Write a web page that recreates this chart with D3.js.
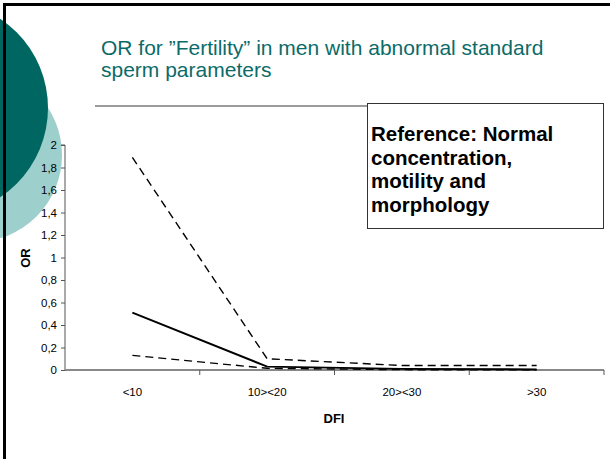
<!DOCTYPE html>
<html lang="en">
<head>
    <meta charset="UTF-8">
    <script src="https://d3js.org/d3.v7.min.js"></script>
    <style>
        body { margin: 0; background: #fff; }
        .tick text { font: 11.5px "Liberation Sans", Arial, sans-serif; fill: #000; }
        .slide-title { font: 21px "Liberation Sans", Arial, sans-serif; fill: #0b6b69; }
        .note-text { font: bold 20.5px "Liberation Sans", Arial, sans-serif; fill: #000; }
        .axis-title { font: bold 13px "Liberation Sans", Arial, sans-serif; fill: #000; }
    </style>
    <title>OR for Fertility</title>
</head>
<body>
<div id="chart"></div>
<script>
// Data
const categories = ["<10", "10><20", "20><30", ">30"];
const orValues = [0.51, 0.03, 0.01, 0.005];
const upperCI = [1.89, 0.10, 0.04, 0.04];
const lowerCI = [0.13, 0.015, 0.003, 0.001];
const yTicks = [0, 0.2, 0.4, 0.6, 0.8, 1, 1.2, 1.4, 1.6, 1.8, 2];
const titleLines = ["OR for \u201dFertility\u201d in men with abnormal standard", "sperm parameters"];
const noteLines = ["Reference: Normal", "concentration,", "motility and", "morphology"];

// Dimensions
const dimensions = { width: 610, height: 459 };
const plot = { left: 65, right: 604, top: 145, bottom: 370 };

const svg = d3.select("#chart")
    .append("svg")
    .attr("width", dimensions.width)
    .attr("height", dimensions.height);

// Slide decoration
svg.append("circle")
    .attr("cx", -25).attr("cy", 155).attr("r", 87)
    .attr("fill", "#9dcfcd");
svg.append("circle")
    .attr("cx", -59).attr("cy", 108).attr("r", 107)
    .attr("fill", "#006661");

svg.append("path")
    .attr("d", "M4.5,459 V4.5 H610")
    .attr("fill", "none")
    .attr("stroke", "#000")
    .attr("stroke-width", 3);

// Title
svg.append("text")
    .attr("class", "slide-title")
    .selectAll("tspan")
    .data(titleLines)
    .join("tspan")
    .attr("x", 101)
    .attr("y", (d, i) => 55 + i * 22)
    .text(d => d);

svg.append("line")
    .attr("x1", 95).attr("x2", 585)
    .attr("y1", 106).attr("y2", 106)
    .attr("stroke", "#7a7a7a")
    .attr("stroke-width", 1.5);

// Scales
const xScale = d3.scaleBand()
    .domain(categories)
    .range([plot.left, plot.right]);

const yScale = d3.scaleLinear()
    .domain([0, 2])
    .range([plot.bottom, plot.top]);

const xPos = (d, i) => xScale(categories[i]) + xScale.bandwidth() / 2;

// Axes
const yAxis = d3.axisLeft(yScale)
    .tickValues(yTicks)
    .tickSize(4)
    .tickPadding(4)
    .tickFormat(d => String(d).replace(".", ","));

const yG = svg.append("g")
    .attr("transform", `translate(${plot.left},0)`)
    .call(yAxis);
yG.select(".domain").attr("stroke", "#555").attr("d", `M-4,${plot.top}H0V${plot.bottom}`);
yG.selectAll(".tick line").attr("stroke", "#555");

const xAxis = d3.axisBottom(xScale).tickSize(0).tickPadding(18);
const xG = svg.append("g")
    .attr("transform", `translate(0,${plot.bottom})`)
    .call(xAxis);
xG.select(".domain").attr("stroke", "#888").attr("stroke-width", 2).attr("d", `M${plot.left},0H${plot.right}`);

// Tick marks between categories
xG.selectAll(".sep")
    .data(categories)
    .join("line")
    .attr("class", "sep")
    .attr("x1", d => xScale(d) + xScale.bandwidth())
    .attr("x2", d => xScale(d) + xScale.bandwidth())
    .attr("y1", 0).attr("y2", 5)
    .attr("stroke", "#555");

// Lines
const lineGenerator = d3.line()
    .x(xPos)
    .y(d => yScale(d));

svg.append("path")
    .datum(upperCI)
    .attr("d", lineGenerator)
    .attr("fill", "none")
    .attr("stroke", "#000")
    .attr("stroke-width", 1.4)
    .attr("stroke-dasharray", "8,5");

svg.append("path")
    .datum(lowerCI)
    .attr("d", lineGenerator)
    .attr("fill", "none")
    .attr("stroke", "#000")
    .attr("stroke-width", 1.4)
    .attr("stroke-dasharray", "8,5");

svg.append("path")
    .datum(orValues)
    .attr("d", lineGenerator)
    .attr("fill", "none")
    .attr("stroke", "#000")
    .attr("stroke-width", 2);

// Axis titles
svg.append("text")
    .attr("class", "axis-title")
    .attr("text-anchor", "middle")
    .attr("x", 334).attr("y", 423)
    .text("DFI");

svg.append("text")
    .attr("class", "axis-title")
    .attr("text-anchor", "middle")
    .attr("transform", "translate(30,258) rotate(-90)")
    .text("OR");

// Reference note box
svg.append("rect")
    .attr("x", 367.5).attr("y", 103.5)
    .attr("width", 236).attr("height", 125)
    .attr("fill", "#fff")
    .attr("stroke", "#333")
    .attr("stroke-width", 1);

svg.append("text")
    .attr("class", "note-text")
    .selectAll("tspan")
    .data(noteLines)
    .join("tspan")
    .attr("x", 371)
    .attr("y", (d, i) => 141 + i * 23.5)
    .text(d => d);
</script>
</body>
</html>
